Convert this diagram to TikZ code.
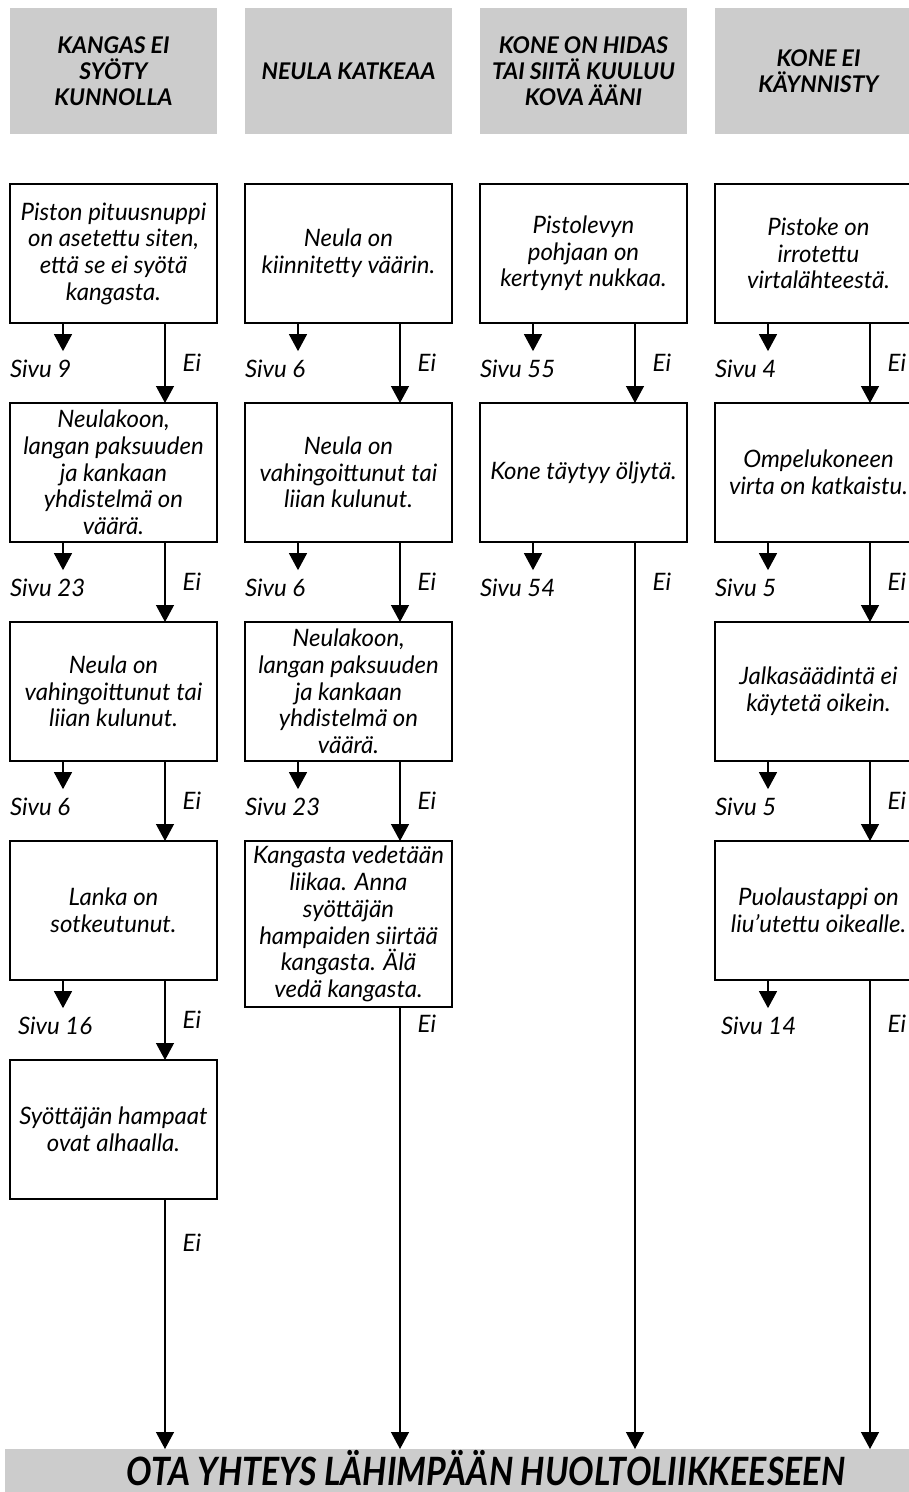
\documentclass[tikz,border=0pt]{standalone}
\usepackage{fontspec}
\setmainfont{Lato}
\usetikzlibrary{positioning,arrows.meta}

\begin{document}
\begin{tikzpicture}[
  head/.style={fill=black!20, minimum width=207pt, minimum height=126pt, inner sep=0pt, outer sep=0pt, align=center, font=\bfseries\itshape\fontsize{23}{26}\selectfont},
  box/.style={draw, line width=1.3pt, minimum width=207pt, minimum height=139pt, inner sep=0pt, outer sep=0pt, align=center, font=\itshape\fontsize{24}{26.7}\selectfont},
  sivu/.style={anchor=west, inner sep=0pt, outer xsep=0pt, outer ysep=9pt, font=\itshape\fontsize{24}{26}\selectfont},
  ei/.style={anchor=west, inner sep=0pt, font=\itshape\fontsize{24}{26}\selectfont},
  arrow/.style={-{Triangle[width=18pt,length=17pt]}, line width=1.3pt},
  banner/.style={fill=black!20, minimum width=962pt, minimum height=44pt, inner sep=0pt, outer sep=0pt, text height=28pt, text depth=0pt, font=\bfseries\itshape\fontsize{39}{42}\selectfont}
]
\useasboundingbox (0,0) rectangle (909pt,-1492pt);

\node[head] (h1) at (113.5pt,-71pt) {KANGAS EI\\SYÖTY\\KUNNOLLA};
\node[head, right=28pt of h1] (h2) {NEULA KATKEAA};
\node[head, right=28pt of h2] (h3) {KONE ON HIDAS\\TAI SIITÄ KUULUU\\KOVA ÄÄNI};
\node[head, right=28pt of h3] (h4) {KONE EI\\KÄYNNISTY};

\node[box, below=50pt of h1] (a1) {Piston pituusnuppi\\on asetettu siten,\\että se ei syötä\\kangasta.};
\node[box, below=80pt of a1] (a2) {Neulakoon,\\langan paksuuden\\ja kankaan\\yhdistelmä on\\väärä.};
\node[box, below=80pt of a2] (a3) {Neula on\\vahingoittunut tai\\liian kulunut.};
\node[box, below=80pt of a3] (a4) {Lanka on\\sotkeutunut.};
\node[box, below=80pt of a4] (a5) {Syöttäjän hampaat\\ovat alhaalla.};

\node[box, below=50pt of h2] (b1) {Neula on\\kiinnitetty väärin.};
\node[box, below=80pt of b1] (b2) {Neula on\\vahingoittunut tai\\liian kulunut.};
\node[box, below=80pt of b2] (b3) {Neulakoon,\\langan paksuuden\\ja kankaan\\yhdistelmä on\\väärä.};
\node[box, below=80pt of b3, minimum height=166pt] (b4) {Kangasta vedetään\\liikaa. Anna\\syöttäjän\\hampaiden siirtää\\kangasta. Älä\\vedä kangasta.};

\node[box, below=50pt of h3] (c1) {Pistolevyn\\pohjaan on\\kertynyt nukkaa.};
\node[box, below=80pt of c1] (c2) {Kone täytyy öljytä.};

\node[box, below=50pt of h4] (d1) {Pistoke on\\irrotettu\\virtalähteestä.};
\node[box, below=80pt of d1] (d2) {Ompelukoneen\\virta on katkaistu.};
\node[box, below=80pt of d2] (d3) {Jalkasäädintä ei\\käytetä oikein.};
\node[box, below=80pt of d3] (d4) {Puolaustappi on\\liu'utettu oikealle.};

\node[banner, below=250pt of a5.south west, anchor=north west, xshift=-5pt] (ota) {\scalebox{0.87}[1]{OTA YHTEYS LÄHIMPÄÄN HUOLTOLIIKKEESEEN}};

\node[sivu] (sa1) at ([yshift=-46pt]a1.south west) {Sivu 9};
\node[sivu] (sa2) at ([yshift=-46pt]a2.south west) {Sivu 23};
\node[sivu] (sa3) at ([yshift=-46pt]a3.south west) {Sivu 6};
\node[sivu] (sa4) at ([yshift=-46pt,xshift=8pt]a4.south west) {Sivu 16};
\node[sivu] (sb1) at ([yshift=-46pt]b1.south west) {Sivu 6};
\node[sivu] (sb2) at ([yshift=-46pt]b2.south west) {Sivu 6};
\node[sivu] (sb3) at ([yshift=-46pt]b3.south west) {Sivu 23};
\node[sivu] (sc1) at ([yshift=-46pt]c1.south west) {Sivu 55};
\node[sivu] (sc2) at ([yshift=-46pt]c2.south west) {Sivu 54};
\node[sivu] (sd1) at ([yshift=-46pt]d1.south west) {Sivu 4};
\node[sivu] (sd2) at ([yshift=-46pt]d2.south west) {Sivu 5};
\node[sivu] (sd3) at ([yshift=-46pt]d3.south west) {Sivu 5};
\node[sivu] (sd4) at ([yshift=-46pt,xshift=6pt]d4.south west) {Sivu 14};

\draw[arrow] ([xshift=-50.5pt]a1.south) -- ([xshift=-50.5pt]a1.south |- sa1.north);
\draw[arrow] ([xshift=-50.5pt]a2.south) -- ([xshift=-50.5pt]a2.south |- sa2.north);
\draw[arrow] ([xshift=-50.5pt]a3.south) -- ([xshift=-50.5pt]a3.south |- sa3.north);
\draw[arrow] ([xshift=-50.5pt]a4.south) -- ([xshift=-50.5pt]a4.south |- sa4.north);
\draw[arrow] ([xshift=-50.5pt]b1.south) -- ([xshift=-50.5pt]b1.south |- sb1.north);
\draw[arrow] ([xshift=-50.5pt]b2.south) -- ([xshift=-50.5pt]b2.south |- sb2.north);
\draw[arrow] ([xshift=-50.5pt]b3.south) -- ([xshift=-50.5pt]b3.south |- sb3.north);
\draw[arrow] ([xshift=-50.5pt]c1.south) -- ([xshift=-50.5pt]c1.south |- sc1.north);
\draw[arrow] ([xshift=-50.5pt]c2.south) -- ([xshift=-50.5pt]c2.south |- sc2.north);
\draw[arrow] ([xshift=-50.5pt]d1.south) -- ([xshift=-50.5pt]d1.south |- sd1.north);
\draw[arrow] ([xshift=-50.5pt]d2.south) -- ([xshift=-50.5pt]d2.south |- sd2.north);
\draw[arrow] ([xshift=-50.5pt]d3.south) -- ([xshift=-50.5pt]d3.south |- sd3.north);
\draw[arrow] ([xshift=-50.5pt]d4.south) -- ([xshift=-50.5pt]d4.south |- sd4.north);

\draw[arrow] ([xshift=51.5pt]a1.south) -- ([xshift=51.5pt]a2.north) node[ei, at start, xshift=17pt, yshift=-40pt] (ea1) {Ei};
\draw[arrow] ([xshift=51.5pt]a2.south) -- ([xshift=51.5pt]a3.north) node[ei, at start, xshift=17pt, yshift=-40pt] (ea2) {Ei};
\draw[arrow] ([xshift=51.5pt]a3.south) -- ([xshift=51.5pt]a4.north) node[ei, at start, xshift=17pt, yshift=-40pt] (ea3) {Ei};
\draw[arrow] ([xshift=51.5pt]a4.south) -- ([xshift=51.5pt]a5.north) node[ei, at start, xshift=17pt, yshift=-40pt] (ea4) {Ei};
\draw[arrow] ([xshift=51.5pt]a5.south) -- ([xshift=51.5pt]a5.south |- ota.north) node[ei, at start, xshift=17pt, yshift=-44pt] (ea5) {Ei};
\draw[arrow] ([xshift=51.5pt]b1.south) -- ([xshift=51.5pt]b2.north) node[ei, at start, xshift=17pt, yshift=-40pt] (eb1) {Ei};
\draw[arrow] ([xshift=51.5pt]b2.south) -- ([xshift=51.5pt]b3.north) node[ei, at start, xshift=17pt, yshift=-40pt] (eb2) {Ei};
\draw[arrow] ([xshift=51.5pt]b3.south) -- ([xshift=51.5pt]b4.north) node[ei, at start, xshift=17pt, yshift=-40pt] (eb3) {Ei};
\draw[arrow] ([xshift=51.5pt]b4.south) -- ([xshift=51.5pt]b4.south |- ota.north) node[ei, at start, xshift=17pt, yshift=-17pt] (eb4) {Ei};
\draw[arrow] ([xshift=51.5pt]c1.south) -- ([xshift=51.5pt]c2.north) node[ei, at start, xshift=17pt, yshift=-40pt] (ec1) {Ei};
\draw[arrow] ([xshift=51.5pt]c2.south) -- ([xshift=51.5pt]c2.south |- ota.north) node[ei, at start, xshift=17pt, yshift=-40pt] (ec2) {Ei};
\draw[arrow] ([xshift=51.5pt]d1.south) -- ([xshift=51.5pt]d2.north) node[ei, at start, xshift=17pt, yshift=-40pt] (ed1) {Ei};
\draw[arrow] ([xshift=51.5pt]d2.south) -- ([xshift=51.5pt]d3.north) node[ei, at start, xshift=17pt, yshift=-40pt] (ed2) {Ei};
\draw[arrow] ([xshift=51.5pt]d3.south) -- ([xshift=51.5pt]d4.north) node[ei, at start, xshift=17pt, yshift=-40pt] (ed3) {Ei};
\draw[arrow] ([xshift=51.5pt]d4.south) -- ([xshift=51.5pt]d4.south |- ota.north) node[ei, at start, xshift=17pt, yshift=-44pt] (ed4) {Ei};
\end{tikzpicture}
\end{document}
